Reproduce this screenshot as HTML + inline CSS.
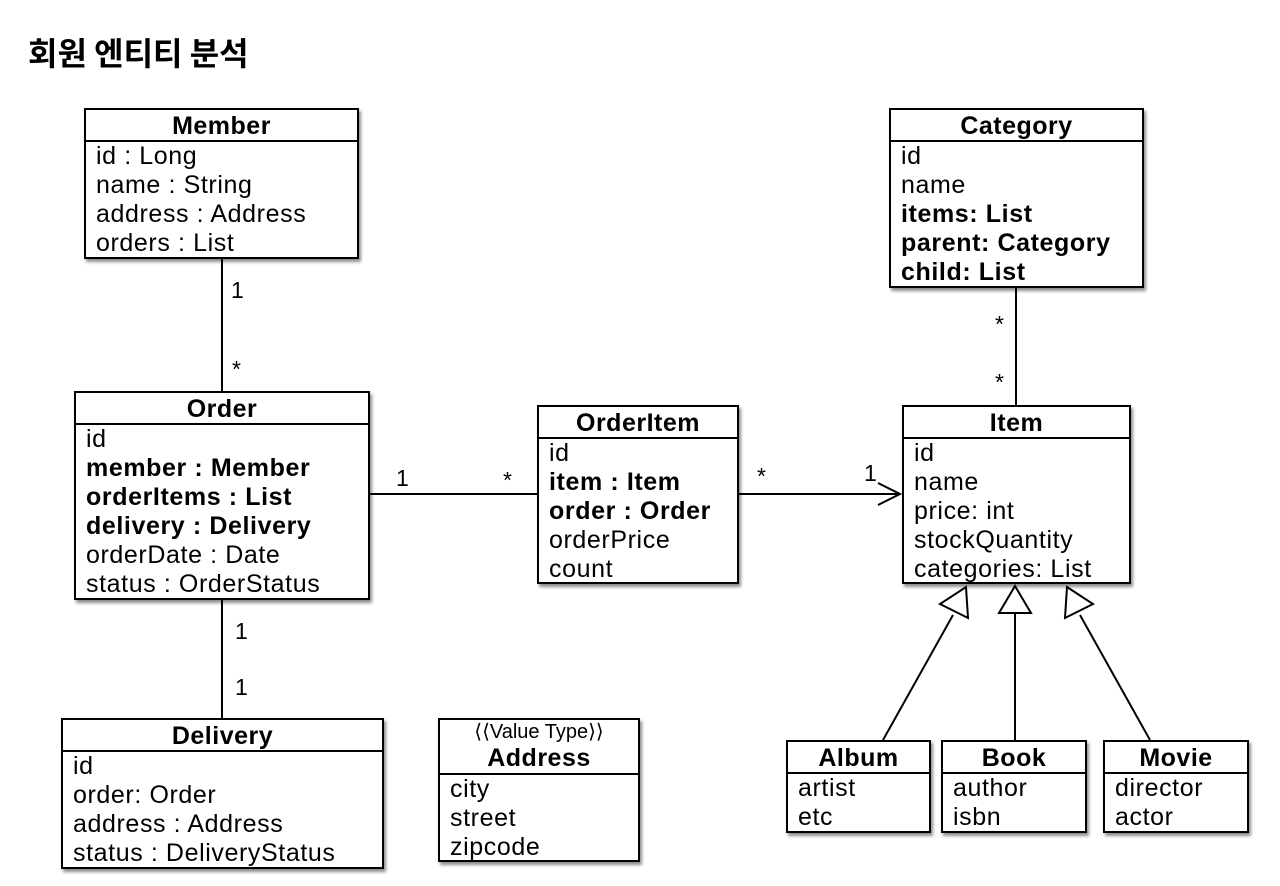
<!DOCTYPE html>
<html><head><meta charset="utf-8">
<style>
html,body{margin:0;padding:0;background:#fff;}
body{width:1280px;height:886px;position:relative;overflow:hidden;font-family:"Liberation Sans","Noto Sans CJK KR",sans-serif;color:#000;}
.title{position:absolute;left:28px;top:31px;font-size:32px;font-weight:bold;font-family:"Noto Sans CJK KR","Liberation Sans",sans-serif;line-height:42px;}
.box{position:absolute;box-sizing:border-box;border:2px solid #000;background:#fff;box-shadow:2px 3px 3px rgba(0,0,0,.45);}
.hd{box-sizing:border-box;text-align:center;font-weight:bold;font-size:25px;letter-spacing:0.5px;border-bottom:2px solid #000;height:32px;line-height:32px;}
.bd{padding-left:10px;font-size:25px;letter-spacing:0.6px;line-height:29px;white-space:nowrap;}
.bd b{font-weight:bold;}
.lbl{position:absolute;font-size:23px;line-height:22px;}
svg{position:absolute;left:0;top:0;}
</style></head><body>
<div class="title">회원 엔티티 분석</div>

<svg width="1280" height="886">
<g stroke="#000" stroke-width="2" fill="none">
<line x1="222" y1="258" x2="222" y2="391"/>
<line x1="369" y1="494" x2="537" y2="494"/>
<line x1="738" y1="494" x2="900" y2="494"/>
<polyline points="878,483 900,494 878,505"/>
<line x1="1016" y1="287" x2="1016" y2="405"/>
<line x1="222" y1="599" x2="222" y2="718"/>
<line x1="883" y1="740" x2="953" y2="615"/>
<polygon points="966,587 968,618 940,604" fill="#fff"/>
<line x1="1015" y1="740" x2="1015" y2="613"/>
<polygon points="1015,586 1031,613 999,613" fill="#fff"/>
<line x1="1150" y1="740" x2="1080" y2="615"/>
<polygon points="1067,587 1093,604 1065,618" fill="#fff"/>
</g>
</svg>

<div class="box" style="left:84px;top:108px;width:275px;height:151px;">
<div class="hd">Member</div>
<div class="bd">id : Long<br>name : String<br>address : Address<br>orders : List</div></div>

<div class="box" style="left:74px;top:391px;width:296px;height:209px;">
<div class="hd">Order</div>
<div class="bd">id<br><b>member : Member</b><br><b>orderItems : List</b><br><b>delivery : Delivery</b><br>orderDate : Date<br>status : OrderStatus</div></div>

<div class="box" style="left:537px;top:405px;width:202px;height:179px;">
<div class="hd">OrderItem</div>
<div class="bd">id<br><b>item : Item</b><br><b>order : Order</b><br>orderPrice<br>count</div></div>

<div class="box" style="left:889px;top:108px;width:255px;height:180px;">
<div class="hd">Category</div>
<div class="bd">id<br>name<br><b>items: List</b><br><b>parent: Category</b><br><b>child: List</b></div></div>

<div class="box" style="left:902px;top:405px;width:229px;height:179px;">
<div class="hd">Item</div>
<div class="bd">id<br>name<br>price: int<br>stockQuantity<br>categories: List</div></div>

<div class="box" style="left:61px;top:718px;width:323px;height:151px;">
<div class="hd">Delivery</div>
<div class="bd">id<br>order: Order<br>address : Address<br>status : DeliveryStatus</div></div>

<div class="box" style="left:438px;top:718px;width:202px;height:144px;">
<div style="box-sizing:border-box;height:55px;border-bottom:2px solid #000;text-align:center;">
<div style="font-size:20px;line-height:24px;">&#10216;&#10216;Value Type&#10217;&#10217;</div>
<div style="font-size:25px;font-weight:bold;line-height:28px;letter-spacing:0.5px;">Address</div></div>
<div class="bd">city<br>street<br>zipcode</div></div>

<div class="box" style="left:786px;top:740px;width:145px;height:93px;">
<div class="hd">Album</div>
<div class="bd">artist<br>etc</div></div>
<div class="box" style="left:941px;top:740px;width:146px;height:93px;">
<div class="hd">Book</div>
<div class="bd">author<br>isbn</div></div>
<div class="box" style="left:1103px;top:740px;width:146px;height:93px;">
<div class="hd">Movie</div>
<div class="bd">director<br>actor</div></div>

<div class="lbl" style="left:231px;top:279px;">1</div>
<div class="lbl" style="left:232px;top:358px;">*</div>
<div class="lbl" style="left:396px;top:467px;">1</div>
<div class="lbl" style="left:503px;top:469px;">*</div>
<div class="lbl" style="left:757px;top:465px;">*</div>
<div class="lbl" style="left:864px;top:462px;">1</div>
<div class="lbl" style="left:995px;top:313px;">*</div>
<div class="lbl" style="left:995px;top:371px;">*</div>
<div class="lbl" style="left:235px;top:620px;">1</div>
<div class="lbl" style="left:235px;top:676px;">1</div>
</body></html>
